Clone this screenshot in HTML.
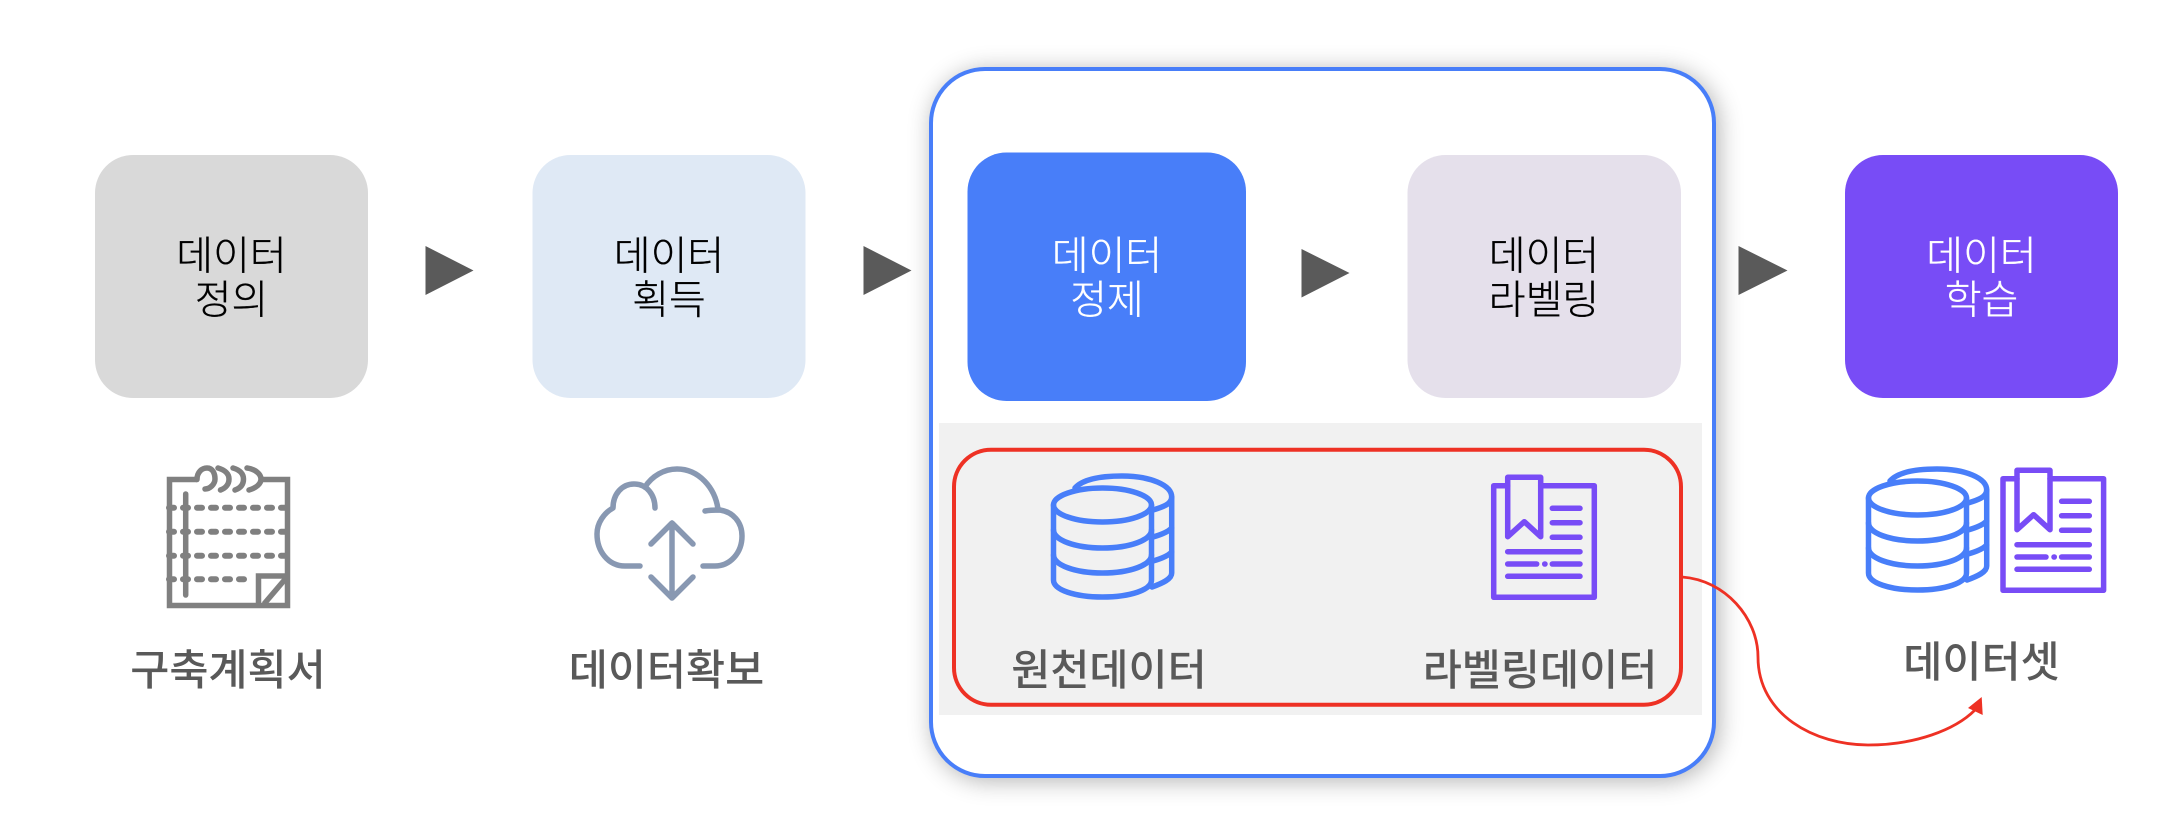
<!DOCTYPE html>
<html lang="ko">
<head>
<meta charset="utf-8">
<title>데이터 구축 과정</title>
<style>
html,body{margin:0;padding:0;background:#fff;width:2176px;height:818px;overflow:hidden}
#wrap{position:relative;width:2176px;height:818px}
#frame{position:absolute;left:929px;top:67px;width:787px;height:711px;box-sizing:border-box;border:4px solid #487ef9;border-radius:56px;background:#fff;box-shadow:3px 3px 24px rgba(0,0,0,.3)}
svg{position:absolute;left:0;top:0}
text{font-family:"Liberation Sans","Noto Sans CJK KR",sans-serif}
.t{font-size:40px;font-weight:300;text-anchor:middle;stroke-width:.35}
.k{fill:#000;stroke:#000}
.w{fill:#fff;stroke:#fff}
.l{font-size:42.500px;font-weight:500;text-anchor:middle;fill:#595959}
</style>
</head>
<body>
<div id="wrap">
<div id="frame"></div>
<svg width="2176" height="818" viewBox="0 0 2176 818" xmlns="http://www.w3.org/2000/svg">
  <defs>
    <g id="db" fill="none" stroke="#487ef9" stroke-width="5.500" stroke-linecap="round" stroke-linejoin="round">
      <path d="M1075 488C1083 479 1102 476 1122 476C1150 476 1171.700 485 1171.700 497C1171.700 504 1163 507 1153 510"/>
      <path d="M1171.700 497V573C1171.700 579 1163 583 1152 587"/>
      <path d="M1153 537C1160 535 1168 532 1171.700 528M1153 561C1160 559 1168 556 1171.700 552"/>
      <ellipse cx="1102.500" cy="505" rx="49" ry="17"/>
      <path d="M1053.500 505V580C1053.500 590 1075 597 1102.500 597C1130 597 1151.500 590 1151.500 580V505"/>
      <path d="M1053.500 530C1053.500 540 1075 548 1102.500 548C1130 548 1151.500 540 1151.500 530"/>
      <path d="M1053.500 555C1053.500 565 1075 573 1102.500 573C1130 573 1151.500 565 1151.500 555"/>
    </g>
    <g id="doc" fill="none" stroke="#784cf6" stroke-width="5.500" stroke-linecap="round" stroke-linejoin="round">
      <path d="M1507.700 485.700H1493.700V597.300H1594.300V485.700H1540.700"/>
      <path d="M1507.700 477.300H1540.700V536.700L1524.300 521.700L1507.700 536.700Z"/>
      <path d="M1552.300 508.300H1580M1552.300 522.700H1580M1552.300 537.300H1580M1507.700 551.700H1580M1507.700 564H1536.700M1544.700 564H1545M1552.300 564H1580M1507.700 576.300H1580"/>
    </g>
  </defs>

  <!-- top boxes -->
  <rect x="95" y="155" width="273" height="243" rx="38" fill="#d9d9d9"/>
  <rect x="532.500" y="155" width="273" height="243" rx="38" fill="#dfe9f5"/>
  <rect x="967.500" y="152.500" width="278.500" height="248.500" rx="39" fill="#487ef9"/>
  <rect x="1407.500" y="155" width="273.500" height="243" rx="38" fill="#e5e0eb"/>
  <rect x="1845" y="155" width="273" height="243" rx="38" fill="#784cf6"/>

  <!-- triangles -->
  <polygon points="425.500,246 473.500,270.500 425.500,295" fill="#5a5a5a"/>
  <polygon points="863.500,246 911.500,270.500 863.500,295" fill="#5a5a5a"/>
  <polygon points="1301.500,249 1349.500,273 1301.500,297.500" fill="#5a5a5a"/>
  <polygon points="1738.500,246 1787.500,270.500 1738.500,295" fill="#5a5a5a"/>

  <!-- box titles -->
  <text class="t k" x="231.500" y="269.500">데이터</text>
  <text class="t k" x="231.500" y="313.500">정의</text>
  <text class="t k" x="669" y="269.500">데이터</text>
  <text class="t k" x="669" y="313.500">획득</text>
  <text class="t w" x="1107" y="269.500">데이터</text>
  <text class="t w" x="1107" y="313.500">정제</text>
  <text class="t k" x="1544" y="269.500">데이터</text>
  <text class="t k" x="1544" y="313.500">라벨링</text>
  <text class="t w" x="1981.500" y="269.500">데이터</text>
  <text class="t w" x="1981.500" y="313.500">학습</text>

  <!-- panel -->
  <rect x="939" y="423" width="763" height="292" fill="#f1f1f1"/>
  <rect x="954" y="449.700" width="727" height="255" rx="37" fill="none" stroke="#ee3124" stroke-width="4"/>

  <!-- notebook icon -->
  <g fill="none" stroke="#808080" stroke-width="5.500">
    <path d="M197 479.500H169.500V605.500H287.500V479.500H262"/>
    <path d="M197 479.500C197 472 202 468 207 468C213 468 215 474 215 479C215 484 210 489 205 489" stroke-linecap="round"/>
    <path d="M218 468C225 470 229 474 229 479C229 484 226 488 220.500 490M233 468C240 470 243.500 474 243.500 479C243.500 484 241 488 235 490M247 468C255 469 261 474 261 479C261 484 256 488 249 490" stroke-linecap="round"/>
    <g stroke-width="6" stroke-linecap="round" stroke-dasharray="5 9">
      <path d="M169 507.700H287"/>
      <path d="M169 531.700H287"/>
      <path d="M169 555.700H287"/>
      <path d="M169 579.300H248"/>
    </g>
    <path d="M185.700 494V595" stroke-linecap="round"/>
    <path d="M258.500 605V576H287.500"/>
    <path d="M264 604L287 577"/>
  </g>

  <!-- cloud icon -->
  <g transform="translate(0 1)" fill="none" stroke="#8898b2" stroke-width="5.500" stroke-linecap="round" stroke-linejoin="round">
    <path d="M640 565H625C608 565 597 550 597 533C597 522 604 512 613 507C613 493 622 483 634 483C647 483 655 494 655 507"/>
    <path d="M645 486C652 475 664 468 677 468C699 468 715 487 718 508"/>
    <path d="M705 510C710 509 715 509 720 509C733 511 742 521 742 535C742 552 730 565 715 565H703"/>
    <path d="M672 522V597M651 543L672 522L693 543M651 576L672 597L693 576"/>
  </g>

  <!-- panel icons -->
  <use href="#db"/>
  <use href="#doc"/>
  <!-- dataset icons -->
  <use href="#db" transform="translate(815 -7)"/>
  <use href="#doc" transform="translate(509.300 -7)"/>

  <!-- labels -->
  <text class="l" x="228" y="685">구축계획서</text>
  <text class="l" x="666.500" y="685">데이터확보</text>
  <text class="l" x="1109" y="685">원천데이터</text>
  <text class="l" x="1540" y="685">라벨링데이터</text>
  <text class="l" x="1981.500" y="677">데이터셋</text>

  <!-- connector -->
  <path d="M1682 577C1725 580 1758 618 1758 657C1758 715 1815 745 1868 745C1915 745 1955 730 1975 710" fill="none" stroke="#ee3124" stroke-width="2.800"/>
  <polygon points="1981.700,697 1968,708 1982.700,715" fill="#ee3124"/>
</svg>
</div>
</body>
</html>
